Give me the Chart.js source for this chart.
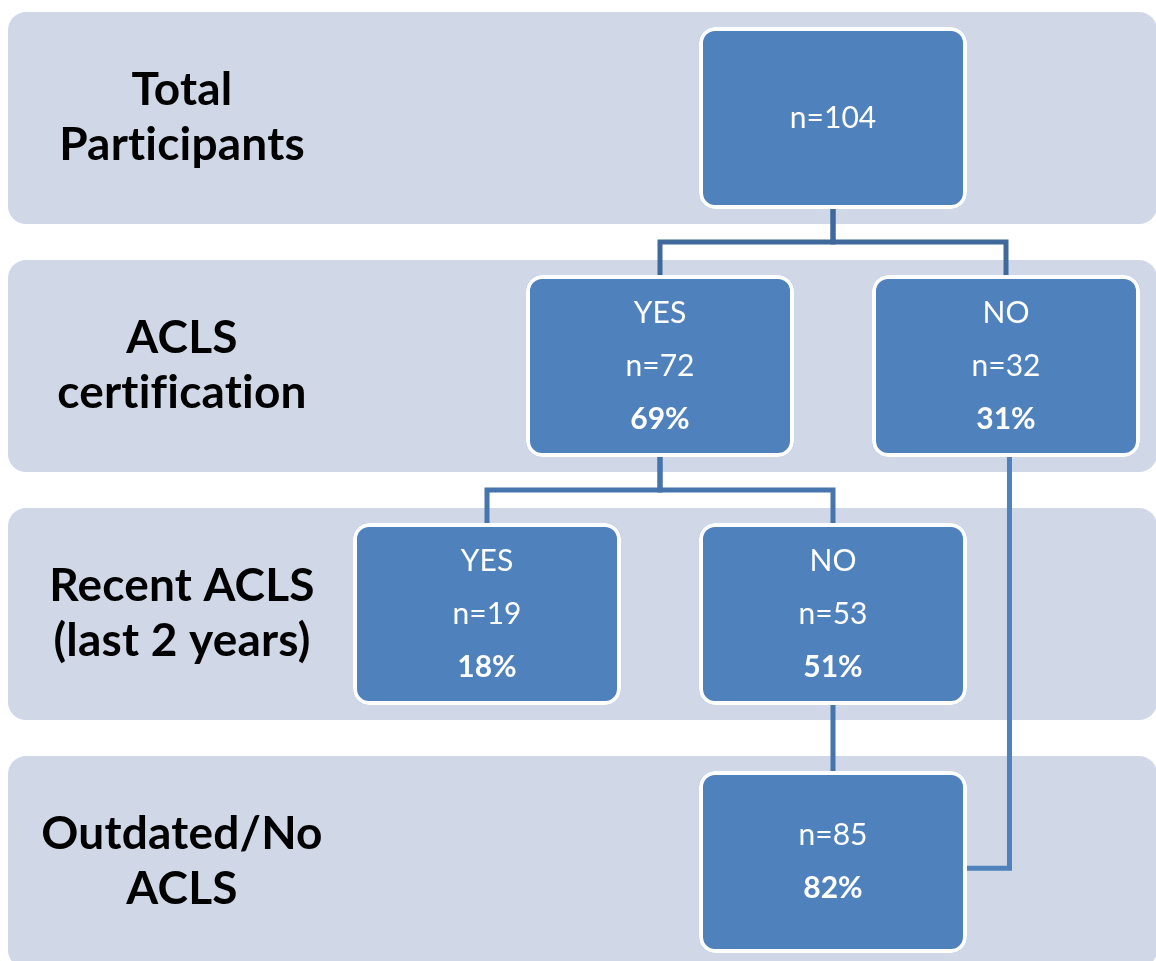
<!DOCTYPE html>
<html>
<head>
<meta charset="utf-8">
<script src="https://cdn.jsdelivr.net/npm/chart.js@4.4.1/dist/chart.umd.min.js"></script>
<style>
  html, body { margin: 0; padding: 0; background: #ffffff; }
  #wrap { width: 1156px; height: 961px; }
</style>
</head>
<body>
<div id="wrap"><canvas id="c" width="1156" height="961"></canvas></div>
<script>
// ---------------- DATA ----------------
const stageLabels = [
  ["Total", "Participants"],
  ["ACLS", "certification"],
  ["Recent ACLS", "(last 2 years)"],
  ["Outdated/No", "ACLS"]
];
const nodeNames   = ["", "YES", "NO", "YES", "NO", ""];
const nodeCounts  = [104, 72, 32, 19, 53, 85];
const nodePercent = [null, 69, 31, 18, 51, 82];
const nodeStage   = [0, 1, 1, 2, 2, 3];
const nodeParents = [[], [0], [0], [1], [1], [4, 2]];

// ---------------- LAYOUT (scale units) ----------------
// x: column slots, y: stage rows
const nodeSlot  = [3, 2, 4, 1, 3, 3];
const labelSlot = -0.763;

const BOX_W = 268, BOX_H = 182, BOX_R = 16, BAND_HALF = 106;
const BLUE = "#4F81BD", BAND = "#D0D8E8";
const FONT = "Lato, 'Open Sans', sans-serif";

function nodePoint(i) { return { x: nodeSlot[i], y: nodeStage[i] }; }

// Connector datasets
const connectorSets = [];
nodeParents.forEach((parents, child) => {
  parents.forEach(p => {
    const a = nodePoint(p), b = nodePoint(child);
    let pts, color;
    if (b.y - a.y === 1) {
      const mid = (a.y + b.y) / 2;
      pts = [a, { x: a.x, y: mid }, { x: b.x, y: mid }, b];
      color = a.y === 0 ? "#3F699B" : "#4674AD";
    } else {
      const yEnd = b.y + 0.025;
      pts = [{ x: a.x + 0.02, y: a.y }, { x: a.x + 0.02, y: yEnd }, { x: b.x, y: yEnd }];
      color = "#4F81BD";
    }
    connectorSets.push({
      type: "scatter",
      data: pts,
      showLine: true,
      borderColor: color,
      borderWidth: 5,
      pointRadius: 0,
      borderJoinStyle: "miter",
      borderCapStyle: "butt",
      order: 2
    });
  });
});

const nodeSet = {
  type: "scatter",
  label: "nodes",
  data: nodeCounts.map((_, i) => nodePoint(i)),
  pointRadius: 0,
  order: 1
};
const labelSet = {
  type: "scatter",
  label: "stages",
  data: stageLabels.map((_, r) => ({ x: labelSlot, y: r })),
  pointRadius: 0,
  order: 1
};

function rr(ctx, x, y, w, h, r) {
  ctx.beginPath();
  ctx.moveTo(x + r, y);
  ctx.lineTo(x + w - r, y);
  ctx.arcTo(x + w, y, x + w, y + r, r);
  ctx.lineTo(x + w, y + h - r);
  ctx.arcTo(x + w, y + h, x + w - r, y + h, r);
  ctx.lineTo(x + r, y + h);
  ctx.arcTo(x, y + h, x, y + h - r, r);
  ctx.lineTo(x, y + r);
  ctx.arcTo(x, y, x + r, y, r);
  ctx.closePath();
}

const flowPlugin = {
  id: "flow",
  beforeDatasetsDraw(chart) {
    const ctx = chart.ctx, ys = chart.scales.y;
    ctx.save();
    ctx.fillStyle = BAND;
    stageLabels.forEach((_, r) => {
      const cy = ys.getPixelForValue(r);
      rr(ctx, 8, cy - BAND_HALF, chart.width + 1 - 8, BAND_HALF * 2, 18);
      ctx.fill();
    });
    ctx.restore();
  },
  afterDatasetsDraw(chart) {
    const ctx = chart.ctx;
    const nodeMeta = chart.getDatasetMeta(chart.data.datasets.indexOf(nodeSet));
    const labelMeta = chart.getDatasetMeta(chart.data.datasets.indexOf(labelSet));
    ctx.save();
    // stage labels
    ctx.fillStyle = "#000000";
    ctx.textAlign = "center";
    ctx.textBaseline = "middle";
    ctx.font = "bold 46px " + FONT;
    if ("letterSpacing" in ctx) ctx.letterSpacing = "0.2px";
    labelMeta.data.forEach((pt, r) => {
      const lines = stageLabels[r];
      lines.forEach((t, k) => {
        ctx.fillText(t, pt.x, pt.y + (k - (lines.length - 1) / 2) * 55);
      });
    });
    if ("letterSpacing" in ctx) ctx.letterSpacing = "0px";
    // boxes
    nodeMeta.data.forEach((pt, i) => {
      const x = pt.x - BOX_W / 2, y = pt.y - BOX_H / 2;
      rr(ctx, x, y, BOX_W, BOX_H, BOX_R);
      ctx.fillStyle = BLUE;
      ctx.fill();
      ctx.lineWidth = 4;
      ctx.strokeStyle = "#FFFFFF";
      rr(ctx, x + 2, y + 2, BOX_W - 4, BOX_H - 4, BOX_R - 2);
      ctx.stroke();
      const lines = [];
      if (nodeNames[i]) lines.push({ t: nodeNames[i], b: false });
      lines.push({ t: "n=" + nodeCounts[i], b: false });
      if (nodePercent[i] !== null) lines.push({ t: nodePercent[i] + "%", b: true });
      ctx.fillStyle = "#FFFFFF";
      lines.forEach((ln, k) => {
        ctx.font = (ln.b ? "bold " : "") + "30px " + FONT;
        ctx.fillText(ln.t, pt.x, pt.y + (k - (lines.length - 1) / 2) * 53);
      });
    });
    ctx.restore();
  }
};

function build() {
  new Chart(document.getElementById("c"), {
    type: "scatter",
    data: { datasets: [...connectorSets, nodeSet, labelSet] },
    options: {
      responsive: false,
      animation: false,
      devicePixelRatio: 1,
      layout: { padding: 0 },
      plugins: { legend: { display: false }, tooltip: { enabled: false } },
      scales: {
        x: { type: "linear", display: false, min: -1.815, max: 4.867 },
        y: { type: "linear", display: false, min: -0.476, max: 3.399, reverse: true }
      }
    },
    plugins: [flowPlugin]
  });
}
if (document.fonts && document.fonts.load) {
  Promise.all([
    document.fonts.load("30px Lato"),
    document.fonts.load("bold 46px Lato")
  ]).then(build, build);
} else {
  build();
}
</script>
</body>
</html>
